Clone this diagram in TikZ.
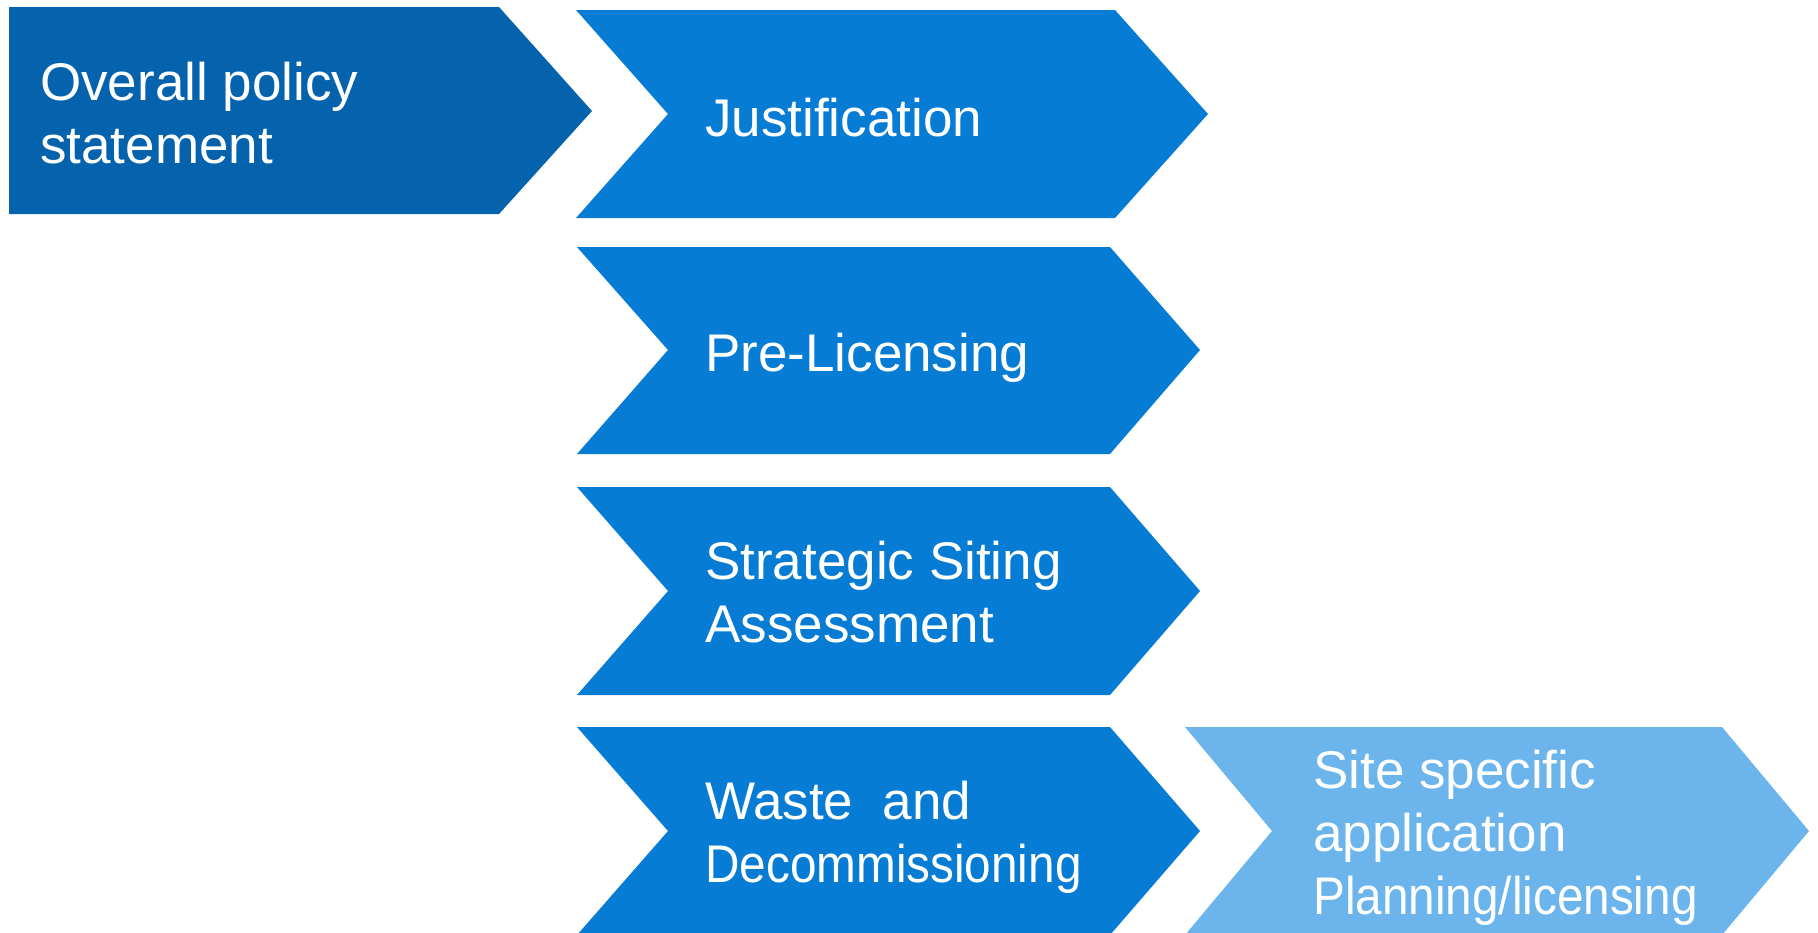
\documentclass[tikz,border=0pt]{standalone}
\usepackage{fontspec}
\setmainfont{Liberation Sans}
\newfontfamily\narrowfont{Liberation Sans}[FakeStretch=0.9]
\usepackage{tikz}
\definecolor{darkblue}{RGB}{5,99,174}
\definecolor{midblue}{RGB}{6,124,212}
\definecolor{lightblue}{RGB}{108,181,236}
\tikzset{
    policybox/.style={
        fill=darkblue % 第一块颜色较深
    },
    stagebox/.style={
        fill=midblue
    },
    sitebox/.style={
        fill=lightblue
    },
    stagetext/.style={
        anchor=west,
        inner sep=0pt,
        align=left,
        text=white,
        font=\fontsize{53}{63}\selectfont,
        execute at begin node=\strut,
        execute at end node=\strut
    }
}

\begin{document}
\begin{tikzpicture}[x=1pt, y=-1pt]
    \useasboundingbox (0,0) rectangle (1818,932);
    % 左上角
    \fill[policybox] (9,7) -- (499,7) -- (592,111) -- (499,214) -- (9,214) -- cycle;
    \node[stagetext] (policy) at (40,122) {Overall policy\\statement};
    % 中间一列
    \fill[stagebox] (576,10) -- (1115,10) -- (1208,114) -- (1115,218) -- (576,218) -- (668,114) -- cycle;
    \node[stagetext] (justification) at (705,124) {Justification};
    \fill[stagebox] (577,247) -- (1110,247) -- (1200,350) -- (1110,454) -- (577,454) -- (668,350) -- cycle;
    \node[stagetext] (prelicensing) at (705,359) {Pre-Licensing};
    \fill[stagebox] (577,487) -- (1110,487) -- (1200,591) -- (1110,695) -- (577,695) -- (668,591) -- cycle;
    \node[stagetext] (siting) at (705,601) {Strategic Siting\\Assessment};
    \fill[stagebox] (577,727) -- (1110,727) -- (1200,831) -- (1110,935) -- (577,935) -- (668,831) -- cycle;
    \node[stagetext] (waste) at (705,841) {Waste~~and\\{\narrowfont Decommissioning}};
    % 右下角
    \fill[sitebox] (1185,727) -- (1722,727) -- (1809,831) -- (1722,935) -- (1185,935) -- (1272,831) -- cycle;
    \node[stagetext] (site) at (1313,842) {Site specific\\application\\{\narrowfont Planning/licensing}};
\end{tikzpicture}
\end{document}
